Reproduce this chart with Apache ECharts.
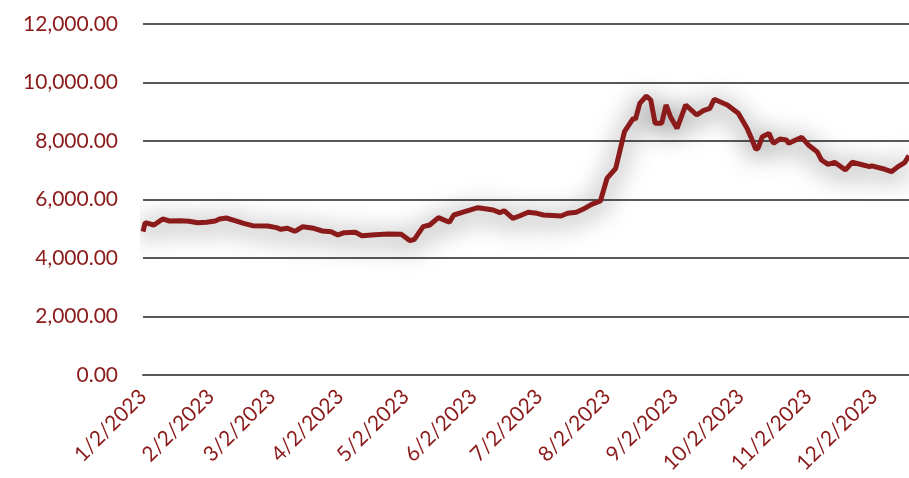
<!DOCTYPE html>
<html>
<head>
<meta charset="utf-8">
<script src="https://cdn.jsdelivr.net/npm/echarts@6/dist/echarts.min.js"></script>
<style>
html,body{margin:0;padding:0;background:#fff;}
#chart{width:909px;height:478px;}
</style>
</head>
<body>
<div id="chart"></div>
<script>
// Axis range (calendar days shown on the x axis)
var startDate = '2023-01-02';
var dayCount = 351;

// Sampled series: day offset from 1/2/2023 and value
var dayOffsets = [0, 1, 5, 9, 12, 17, 21, 25, 29, 33, 35, 38, 42, 46, 50, 57, 61, 63, 66, 69, 70, 73, 78, 82, 86, 89, 92, 97, 100, 106, 112, 118, 122, 124, 128, 131, 135, 140, 142, 147, 153, 157, 160, 163, 165, 169, 172, 176, 180, 183, 191, 194, 198, 201, 205, 209, 212, 216, 220, 224, 225, 227, 230, 232, 234, 237, 239, 241, 244, 248, 253, 256, 259, 261, 267, 272, 276, 278, 280, 281, 283, 286, 288, 291, 294, 295, 301, 304, 308, 310, 313, 316, 321, 324, 329, 332, 333, 339, 342, 345, 348, 350];
var values = [4900, 5208, 5129, 5334, 5265, 5276, 5254, 5208, 5220, 5265, 5334, 5368, 5276, 5186, 5105, 5094, 5037, 4981, 5015, 4923, 4934, 5071, 5015, 4923, 4900, 4787, 4866, 4877, 4764, 4798, 4821, 4810, 4592, 4639, 5071, 5129, 5379, 5220, 5470, 5584, 5721, 5676, 5641, 5550, 5618, 5357, 5436, 5562, 5528, 5470, 5436, 5528, 5562, 5665, 5836, 5949, 6720, 7067, 8318, 8777, 8742, 9289, 9539, 9402, 8606, 8606, 9231, 8831, 8435, 9231, 8889, 9037, 9118, 9426, 9231, 8948, 8435, 8090, 7717, 7751, 8147, 8261, 7922, 8068, 8035, 7922, 8125, 7864, 7636, 7350, 7204, 7272, 7009, 7272, 7180, 7124, 7147, 7033, 6952, 7124, 7261, 7500];

// Y axis ticks
var yMin = 0, yMax = 12000, yStep = 2000;

function fmtDate(d) {
  return (d.getUTCMonth() + 1) + '/' + d.getUTCDate() + '/' + d.getUTCFullYear();
}
var base = new Date(startDate + 'T00:00:00Z');
var categories = [];
for (var i = 0; i < dayCount; i++) {
  categories.push(fmtDate(new Date(base.getTime() + i * 86400000)));
}
var seriesData = dayOffsets.map(function (o, k) { return [categories[o], values[k]]; });

var red = '#8B1A1A';
var chart = echarts.init(document.getElementById('chart'), null, {renderer: 'canvas'});
chart.setOption({
  animation: false,
  grid: {left: 143, right: 0, top: 24, bottom: 103, containLabel: false},
  xAxis: {
    type: 'category',
    data: categories,
    boundaryGap: false,
    axisLine: {show: true, lineStyle: {color: '#595959', width: 2}},
    axisTick: {show: false},
    splitLine: {show: false},
    axisLabel: {
      interval: function (idx, val) { return val.split('/')[1] === '2'; },
      rotate: 45,
      margin: 18,
      color: red,
      fontFamily: 'Lato',
      fontSize: 21
    }
  },
  yAxis: {
    type: 'value',
    min: yMin, max: yMax, interval: yStep,
    axisLine: {show: false},
    axisTick: {show: false},
    splitLine: {lineStyle: {color: '#595959', width: 2}},
    axisLabel: {
      margin: 25,
      color: red,
      fontFamily: 'Lato',
      fontSize: 21,
      formatter: function (v) {
        return v.toLocaleString('en-US', {minimumFractionDigits: 2, maximumFractionDigits: 2});
      }
    }
  },
  series: [{
    type: 'line',
    data: seriesData,
    showSymbol: false,
    symbol: 'none',
    lineStyle: {
      color: red, width: 5,
      shadowColor: 'rgba(0,0,0,0.75)', shadowBlur: 26, shadowOffsetY: 4
    }
  }]
});
</script>
</body>
</html>
